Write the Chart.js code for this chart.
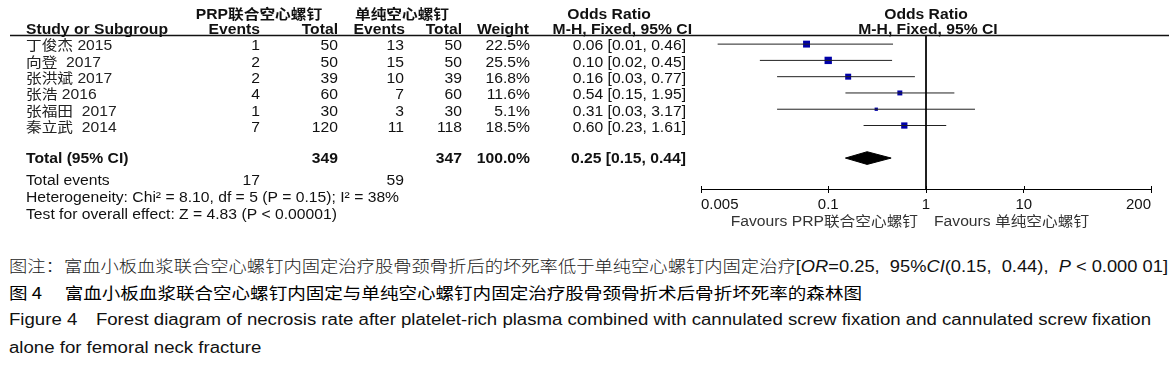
<!DOCTYPE html>
<html>
<head>
<meta charset="utf-8">
<script src="https://cdn.jsdelivr.net/npm/chart.js@4.4.1/dist/chart.umd.min.js"></script>
<style>
html, body { margin: 0; padding: 0; background: #fff; width: 1174px; height: 367px; overflow: hidden; }
#wrap { position: absolute; left: 0; top: 0; width: 1174px; height: 240px; }
.cap { position: absolute; left: 9px; white-space: nowrap; transform-origin: 0 50%;
  font-family: "Liberation Sans", Arial, "Noto Sans CJK SC", sans-serif; font-size: 16px; line-height: 20px; color: #111; }
.song { font-family: "Noto Sans CJK SC", sans-serif; font-weight: 300; color: #222; }
.hei { font-family: "Noto Sans CJK SC", sans-serif; color: #000; }
.narrow { font-family: "Liberation Sans Narrow", "Liberation Sans", Arial, sans-serif; }
</style>
</head>
<body>
<div id="wrap"><canvas id="forest" width="1174" height="240"></canvas></div>
<div class="cap" id="c1" style="top:255px"><span class="song">图注：富血小板血浆联合空心螺钉内固定治疗股骨颈骨折后的坏死率低于单纯空心螺钉内固定治疗</span><span class="narrow">[<i>OR</i>=0.25,&nbsp; 95%<i>CI</i>(0.15,&nbsp; 0.44),&nbsp; <i>P</i> &lt; 0.000 01]</span></div>
<div class="cap hei" id="c2" style="top:282px">图 4　 富血小板血浆联合空心螺钉内固定与单纯空心螺钉内固定治疗股骨颈骨折术后骨折坏死率的森林图</div>
<div class="cap narrow" id="c3" style="top:310px">Figure 4&emsp;Forest diagram of necrosis rate after platelet-rich plasma combined with cannulated screw fixation and cannulated screw fixation</div>
<div class="cap narrow" id="c4" style="top:338px">alone for femoral neck fracture</div>
<script>
// studies and counts
var studies = ['丁俊杰 2015', '向登  2017', '张洪斌 2017', '张浩 2016', '张福田  2017', '秦立武  2014'];
var eventsPRP = [1, 2, 2, 4, 1, 7];
var totalPRP = [50, 50, 39, 60, 30, 120];
var eventsCS = [13, 15, 10, 7, 3, 11];
var totalCS = [50, 50, 39, 60, 30, 118];
var weights = [22.5, 25.5, 16.8, 11.6, 5.1, 18.5];
// odds ratios and 95% CI
var oddsRatio = [0.06, 0.10, 0.16, 0.54, 0.31, 0.60];
var ciLow = [0.0074, 0.02, 0.03, 0.15, 0.03, 0.23];
var ciHigh = [0.46, 0.45, 0.77, 1.95, 3.17, 1.61];
var pooledOR = 0.25, pooledLow = 0.15, pooledHigh = 0.44;
// axis
var tickValues = [0.005, 0.1, 1, 10, 200];
var tickLabels = ['0.005', '0.1', '1', '10', '200'];

var rows = [1, 2, 3, 4, 5, 6];
var totalRow = 8;
var FONT = '"Liberation Sans", Arial, "Noto Sans CJK SC", sans-serif';
var SX = 1.12; // source picture is a bit stretched sideways

function sum(a) { return a.reduce(function (s, v) { return s + v; }, 0); }
function fmtCI(o, l, h) { return o.toFixed(2) + ' [' + l.toFixed(2) + ', ' + h.toFixed(2) + ']'; }

function txt(ctx, s, x, y, align, bold, color) {
  ctx.save();
  ctx.font = (bold ? 'bold ' : '') + '14px ' + FONT;
  ctx.fillStyle = color || '#111';
  ctx.textBaseline = 'middle';
  ctx.textAlign = align;
  ctx.translate(x, y);
  ctx.scale(SX, 1);
  ctx.fillText(s, 0, 0);
  ctx.restore();
}

var tablePlugin = {
  id: 'forestTable',
  afterDraw: function (chart) {
    var ctx = chart.ctx;
    var ys = chart.scales.y, xs = chart.scales.x;
    var area = chart.chartArea;

    // headers
    txt(ctx, 'PRP联合空心螺钉', 259, 15, 'center', true);
    txt(ctx, '单纯空心螺钉', 402, 15, 'center', true);
    txt(ctx, 'Odds Ratio', 609, 15, 'center', true);
    txt(ctx, 'Odds Ratio', 926, 15, 'center', true);
    txt(ctx, 'Study or Subgroup', 26, 30, 'left', true);
    txt(ctx, 'Events', 260, 30, 'right', true);
    txt(ctx, 'Total', 338, 30, 'right', true);
    txt(ctx, 'Events', 405, 30, 'right', true);
    txt(ctx, 'Total', 462, 30, 'right', true);
    txt(ctx, 'Weight', 529, 30, 'right', true);
    txt(ctx, 'M-H, Fixed, 95% CI', 692, 30, 'right', true);
    txt(ctx, 'M-H, Fixed, 95% CI', 928, 30, 'center', true);

    ctx.save();
    ctx.strokeStyle = '#111';
    ctx.lineWidth = 1.3;
    ctx.beginPath();
    ctx.moveTo(10, 35.5);
    ctx.lineTo(1169, 35.5);
    ctx.stroke();
    ctx.restore();

    // study rows
    studies.forEach(function (s, i) {
      var py = ys.getPixelForValue(rows[i]) + 2.5;
      txt(ctx, s, 26, py, 'left', false, '#222');
      txt(ctx, String(eventsPRP[i]), 260, py, 'right');
      txt(ctx, String(totalPRP[i]), 338, py, 'right');
      txt(ctx, String(eventsCS[i]), 404, py, 'right');
      txt(ctx, String(totalCS[i]), 462, py, 'right');
      txt(ctx, weights[i].toFixed(1) + '%', 530, py, 'right');
      txt(ctx, fmtCI(oddsRatio[i], ciLow[i], ciHigh[i]), 686, py, 'right');
    });

    // total row
    var ty = ys.getPixelForValue(totalRow) + 1;
    txt(ctx, 'Total (95% CI)', 26, ty, 'left', true);
    txt(ctx, String(sum(totalPRP)), 338, ty, 'right', true);
    txt(ctx, String(sum(totalCS)), 462, ty, 'right', true);
    txt(ctx, sum(weights).toFixed(1) + '%', 530, ty, 'right', true);
    txt(ctx, fmtCI(pooledOR, pooledLow, pooledHigh), 686, ty, 'right', true);

    txt(ctx, 'Total events', 26, 181, 'left');
    txt(ctx, String(sum(eventsPRP)), 260, 181, 'right');
    txt(ctx, String(sum(eventsCS)), 404, 181, 'right');
    txt(ctx, 'Heterogeneity: Chi² = 8.10, df = 5 (P = 0.15); I² = 38%', 26, 198, 'left');
    txt(ctx, 'Test for overall effect: Z = 4.83 (P < 0.00001)', 26, 215, 'left');

    // upper half of the axis tick marks
    ctx.save();
    ctx.strokeStyle = '#000';
    ctx.lineWidth = 1;
    tickValues.forEach(function (v) {
      var px = Math.round(xs.getPixelForValue(v)) + 0.5;
      ctx.beginPath();
      ctx.moveTo(px, area.bottom - 3);
      ctx.lineTo(px, area.bottom);
      ctx.stroke();
    });
    ctx.restore();

    var mid = xs.getPixelForValue(1);
    txt(ctx, 'Favours PRP联合空心螺钉', mid - 8, 222, 'right', false, '#333');
    txt(ctx, 'Favours 单纯空心螺钉', mid + 8, 222, 'left', false, '#333');
  }
};

var datasets = [];

// reference line at OR = 1
datasets.push({
  type: 'line',
  data: [{ x: 1, y: 0.44 }, { x: 1, y: 9.9 }],
  borderColor: '#000',
  borderWidth: 1,
  pointRadius: 0
});

// confidence intervals
rows.forEach(function (r, i) {
  datasets.push({
    type: 'line',
    data: [{ x: ciLow[i], y: r }, { x: ciHigh[i], y: r }],
    borderColor: '#222',
    borderWidth: 1,
    pointRadius: 0
  });
});

// study estimates, box size from weight
datasets.push({
  type: 'scatter',
  data: oddsRatio.map(function (v, i) { return { x: v, y: rows[i] }; }),
  pointStyle: 'rect',
  pointRadius: weights.map(function (w) { return 1.03 * Math.sqrt(w); }),
  backgroundColor: '#0000a8',
  borderWidth: 0
});

// pooled diamond
var dh = 0.39;
datasets.push({
  type: 'line',
  data: [
    { x: pooledLow, y: totalRow },
    { x: pooledOR, y: totalRow - dh },
    { x: pooledHigh, y: totalRow },
    { x: pooledOR, y: totalRow + dh },
    { x: pooledLow, y: totalRow }
  ],
  borderColor: '#000',
  backgroundColor: '#000',
  borderWidth: 1,
  fill: 'shape',
  tension: 0,
  pointRadius: 0
});

var forestCtx = document.getElementById('forest').getContext('2d');
var forestChart = new Chart(forestCtx, {
  type: 'scatter',
  data: { datasets: datasets },
  options: {
    responsive: false,
    animation: false,
    layout: { padding: { left: 701, right: 23, top: 35, bottom: 23 } },
    plugins: { legend: { display: false }, tooltip: { enabled: false } },
    scales: {
      x: {
        type: 'logarithmic',
        min: 0.005,
        max: 200,
        afterBuildTicks: function (scale) {
          scale.ticks = tickValues.map(function (v) { return { value: v }; });
        },
        ticks: {
          align: 'inner',
          autoSkip: false,
          maxRotation: 0,
          padding: 3,
          color: '#111',
          font: { family: FONT, size: 15 },
          callback: function (v, i) { return tickLabels[i]; }
        },
        grid: { drawOnChartArea: false, tickLength: 4, color: '#000' },
        border: { color: '#000', width: 1 }
      },
      y: { type: 'linear', min: 0.44, max: 9.9, reverse: true, display: false }
    }
  },
  plugins: [tablePlugin]
});

// fit caption lines to their widths in the source figure
function fitCaps() {
  var targets = { c1: 1159, c2: 853, c3: 1142 };
  var k3 = 1;
  Object.keys(targets).forEach(function (id) {
    var el = document.getElementById(id);
    el.style.transform = 'none';
    var k = targets[id] / el.getBoundingClientRect().width;
    el.style.transform = 'scaleX(' + k + ')';
    if (id === 'c3') k3 = k;
  });
  document.getElementById('c4').style.transform = 'scaleX(' + k3 + ')';
}
fitCaps();
if (document.fonts) document.fonts.ready.then(fitCaps);
</script>
</body>
</html>
